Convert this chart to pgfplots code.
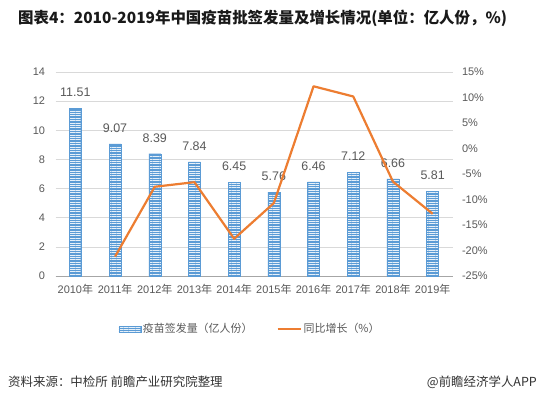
\documentclass[border=0pt]{standalone}
\usepackage{pgfplots}
\pgfplotsset{compat=1.18}
\usepackage{fontspec}
\setmainfont{Liberation Sans}
\newfontfamily\cjk{Noto Sans CJK SC}
\usetikzlibrary{patterns.meta}
\definecolor{barblue}{HTML}{5B9BD5}
\definecolor{lineorange}{HTML}{ED7D31}
\definecolor{txt}{HTML}{595959}
\definecolor{gridc}{HTML}{D9D9D9}
\begin{document}
\begin{tikzpicture}[x=1bp,y=1bp]
\path[use as bounding box, fill=white] (0,0) rectangle (545,399);
\node[anchor=west, inner sep=0, font=\cjk\bfseries\fontsize{15.5}{17}\selectfont, text=black!90] at (18,381) {图表4：2010-2019年中国疫苗批签发量及增长情况(单位：亿人份，\%)};
\begin{axis}[
  at={(55.5bp,123bp)}, anchor=south west, scale only axis,
  width=397bp, height=204bp,
  xmin=-0.5, xmax=9.5, ymin=0, ymax=14,
  xtick={0,...,9},
  xticklabels={{2010{\cjk 年}},{2011{\cjk 年}},{2012{\cjk 年}},{2013{\cjk 年}},{2014{\cjk 年}},{2015{\cjk 年}},{2016{\cjk 年}},{2017{\cjk 年}},{2018{\cjk 年}},{2019{\cjk 年}}},
  ytick={0,2,4,6,8,10,12,14},
  yticklabels={0,2,4,6,8,10,12,14},
  axis x line*=bottom, axis y line*=left,
  y axis line style={draw=none},
  x axis line style={draw=gray!70, line width=0.8bp, -},
  major tick length=0,
  ymajorgrids, grid style={gridc, line width=0.6bp},
  tick label style={font=\fontsize{11}{12}\selectfont, text=txt},
  yticklabel style={xshift=-7bp},
  xticklabel style={yshift=-5bp},
  /pgf/number format/assume math mode=true,
  clip=false,
]
\addplot[ybar, bar width=12bp, draw=barblue, fill=barblue,
  postaction={pattern={Lines[angle=0, distance=2.4bp, line width=0.7bp]}, pattern color=white!85!barblue},
  nodes near coords, point meta=y,
  every node near coord/.append style={anchor=center, yshift=16bp, font=\fontsize{12.5}{13}\selectfont, text=txt, /pgf/number format/assume math mode=true, /pgf/number format/fixed, /pgf/number format/precision=2, /pgf/number format/fixed zerofill}]
  coordinates {(0,11.51) (1,9.07) (2,8.39) (3,7.84) (4,6.45) (5,5.76) (6,6.46) (7,7.12) (8,6.66) (9,5.81)};
\end{axis}
\begin{axis}[
  at={(55.5bp,123bp)}, anchor=south west, scale only axis,
  width=397bp, height=204bp,
  xmin=-0.5, xmax=9.5, ymin=-25, ymax=15,
  axis x line=none, axis y line*=right,
  y axis line style={draw=none},
  major tick length=0,
  ytick={-25,-20,-15,-10,-5,0,5,10,15},
  yticklabels={-25\%,-20\%,-15\%,-10\%,-5\%,0\%,5\%,10\%,15\%},
  yticklabel style={font=\fontsize{11}{12}\selectfont, text=txt, anchor=west, xshift=6bp},
  clip=false,
  legend columns=2,
  legend style={at={(0.49,-0.26)}, anchor=center, draw=none, fill=none,
    font=\fontsize{11}{12}\selectfont, text=txt,
    /tikz/every even column/.append style={column sep=22bp}},
]
\addlegendimage{legend image code/.code={
  \draw[draw=barblue, fill=barblue, postaction={pattern={Lines[angle=0, distance=2.4bp, line width=0.7bp]}, pattern color=white!85!barblue}] (0bp,-3bp) rectangle (22bp,3bp);}}
\addlegendentry{\cjk 疫苗签发量（亿人份）}
\addplot[lineorange, line width=2.2bp, mark=none, line join=round,
  legend image code/.code={\draw[lineorange, line width=2.2bp] (0bp,0bp) -- (23bp,0bp);}]
  coordinates {(1,-21.2) (2,-7.5) (3,-6.6) (4,-17.7) (5,-10.7) (6,12.2) (7,10.2) (8,-6.5) (9,-12.8)};
\addlegendentry{\cjk 同比增长（\%）}
\end{axis}
\node[anchor=west, inner sep=0, font=\cjk\fontsize{12.5}{14}\selectfont, text=black!80] at (8,17) {资料来源：中检所 前瞻产业研究院整理};
\node[anchor=east, inner sep=0, font=\cjk\fontsize{12.5}{14}\selectfont, text=black!80] at (537,17) {@前瞻经济学人APP};
\end{tikzpicture}
\end{document}
